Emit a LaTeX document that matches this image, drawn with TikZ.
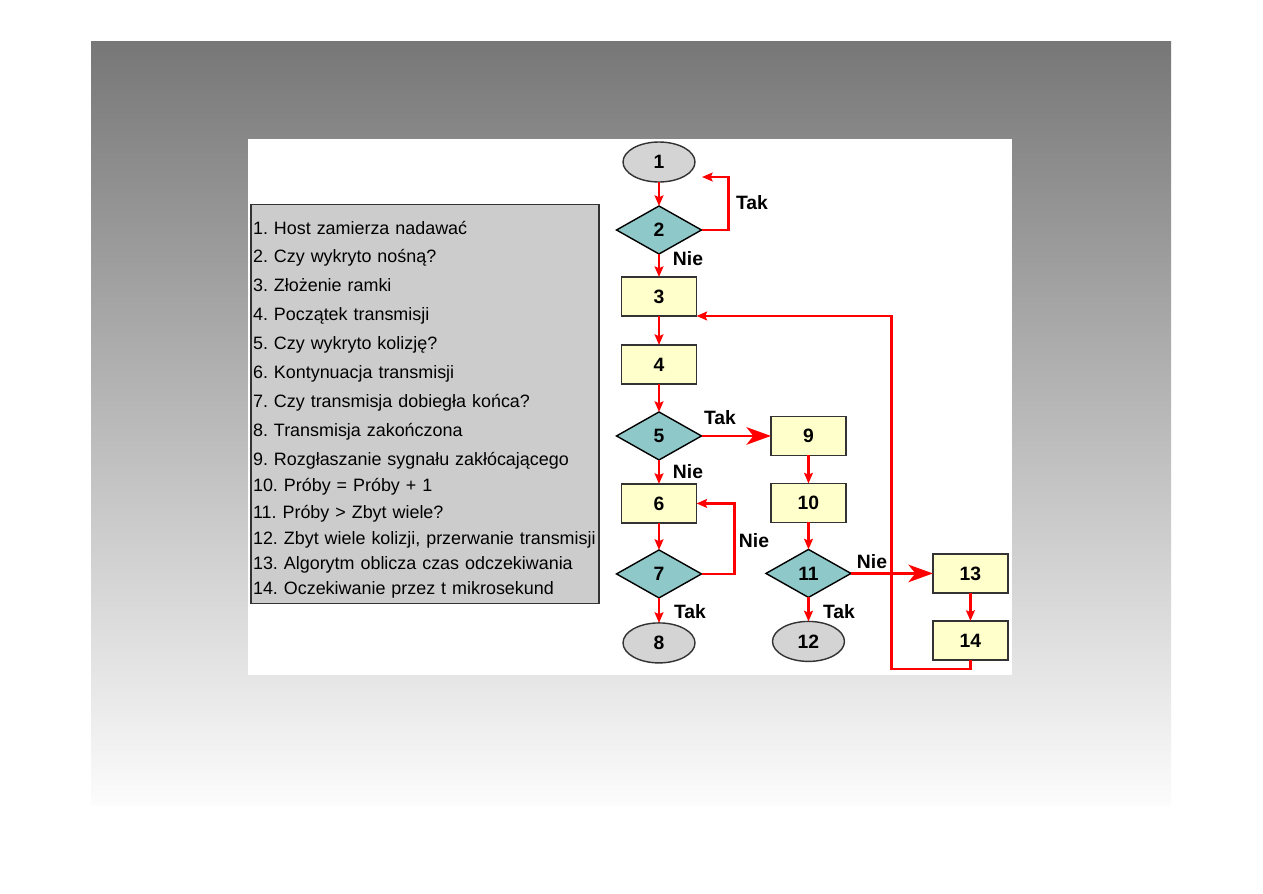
\documentclass[tikz,border=0pt]{standalone}
\usepackage{fontspec}
\setmainfont{Liberation Sans}
\usetikzlibrary{arrows.meta, positioning, shapes.geometric, calc}
\definecolor{bgtop}{RGB}{119,119,119}
\definecolor{bgbottom}{RGB}{252,252,252}
\definecolor{startgray}{RGB}{212,212,212}
\definecolor{decteal}{RGB}{143,200,200}
\definecolor{procyellow}{RGB}{255,255,204}
\definecolor{legendgray}{RGB}{204,204,204}
\definecolor{edgegray}{RGB}{51,51,51}
\frenchspacing

\begin{document}
\begin{tikzpicture}[
    x=0.02cm, y=-0.02cm,
    every node/.style={font=\fontsize{11}{13}\selectfont\bfseries},
    term/.style={ellipse, draw=edgegray, line width=0.8pt, fill=startgray, minimum width=1.44cm, minimum height=0.8cm, inner sep=0pt, outer sep=0pt},
    dec/.style={diamond, draw=black, line width=0.8pt, fill=decteal, minimum width=1.7cm, minimum height=0.96cm, inner sep=0pt, outer sep=0pt},
    proc/.style={rectangle, draw=edgegray, line width=0.8pt, fill=procyellow, minimum width=1.5cm, minimum height=0.78cm, inner sep=0pt, outer sep=0pt},
    arrow/.style={draw=red, line width=1.4pt, -{Stealth[length=6pt, width=5pt, inset=1pt]}},
    bigarrow/.style={arrow, -{Stealth[length=14pt, width=10pt, inset=4pt]}},
    lbl/.style={inner sep=0pt}
]

% page, slide background and white panel
\fill[white] (0,0) rectangle (1263,893);
\useasboundingbox (0,0) rectangle (1263,893);
\shade[top color=bgtop, bottom color=bgbottom] (91,41) rectangle (1171,805);
\fill[white] (248,139) rectangle (1012,675);

% legend
\node[draw=edgegray, line width=0.8pt, fill=legendgray, minimum width=6.96cm, minimum height=7.92cm,
      text width=6.88cm, inner xsep=0.04cm, align=left, font=\fontsize{10.2}{16.5}\selectfont] (legend) at (425,404) {%
\rule{0pt}{13.5pt}1. Host zamierza nadawać\\
2. Czy wykryto nośną?\\
3. Złożenie ramki\\
4. Początek transmisji\\
5. Czy wykryto kolizję?\\
6. Kontynuacja transmisji\\
7. Czy transmisja dobiegła końca?\\
8. Transmisja zakończona\\
9. Rozgłaszanie sygnału zakłócającego\\[-1.7pt]
10. Próby = Próby + 1\\[-1.1pt]
11. Próby > Zbyt wiele?\\[-1.7pt]
12. Zbyt wiele kolizji, przerwanie transmisji\\[-2.8pt]
13. Algorytm oblicza czas odczekiwania\\[-2.3pt]
14. Oczekiwanie przez t mikrosekund};

% main column
\node[term] (n1) at (659,162) {1};
\node[dec, below=0.48cm of n1] (n2) {2};
\node[proc, below=0.46cm of n2] (n3) {3};
\node[proc, below=0.58cm of n3] (n4) {4};
\node[dec, below=0.56cm of n4] (n5) {5};
\node[proc, below=0.48cm of n5] (n6) {6};
\node[dec, below=0.54cm of n6] (n7) {7};
\node[term, below=0.5cm of n7] (n8) {8};

% collision branch
\node[proc, right=1.39cm of n5] (n9) {9};
\node[proc, below=0.56cm of n9] (n10) {10};
\node[dec, below=0.54cm of n10] (n11) {11};
\node[term, below=0.48cm of n11] (n12) {12};
\node[proc, right=1.64cm of n11] (n13) {13};
\node[proc, below=0.56cm of n13] (n14) {14};

\coordinate (back1) at (702,177);

\draw[arrow] (n1) -- (n2);
\draw[arrow] (n2.east) -- ++(27,0) |- (back1);
\draw[arrow] (n2) -- (n3);
\draw[arrow] (n3) -- (n4);
\draw[arrow] (n4) -- (n5);
\draw[bigarrow] (n5) -- (n9);
\draw[arrow] (n5) -- (n6);
\draw[arrow] (n6) -- (n7);
\draw[arrow] (n7.east) -- ++(33,0) |- (n6.east);
\draw[arrow] (n7) -- (n8);
\draw[arrow] (n9) -- (n10);
\draw[arrow] (n10) -- (n11);
\draw[arrow] (n11) -- (n12);
\draw[bigarrow] (n11) -- (n13);
\draw[arrow] (n13) -- (n14);
\draw[arrow] (n14.south) -- ++(0,9) -| ($(n3.south east)+(195,0)$) -- (n3.south east);

% answers
\node[lbl] (tak2) at (752,203) {Tak};
\node[lbl] (nie2) at (688,259) {Nie};
\node[lbl] (tak5) at (720,418) {Tak};
\node[lbl] (nie5) at (688,472) {Nie};
\node[lbl] (nie7) at (754,541) {Nie};
\node[lbl] (tak7) at (690,612) {Tak};
\node[lbl] (nie11) at (872,562) {Nie};
\node[lbl] (tak11) at (839,612) {Tak};

\end{tikzpicture}
\end{document}
